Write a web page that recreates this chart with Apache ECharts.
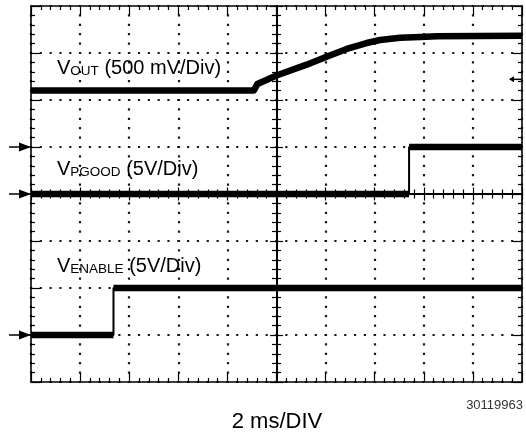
<!DOCTYPE html>
<html>
<head>
<meta charset="utf-8">
<script src="https://cdn.jsdelivr.net/npm/echarts@6/dist/echarts.min.js"></script>
<style>
  html, body { margin: 0; padding: 0; background: #fff; }
  #chart { width: 526px; height: 436px; }
</style>
</head>
<body>
<div id="chart"></div>
<script>
// Horizontal: time in ms relative to the screen centre, 2 ms per division
const timeRange = [-10, 10];
const timePerDiv = 2;
// Vertical: 8 divisions, 0 at the screen centre
const divRange = [-4, 4];

// Channel settings
const channelNames = ['OUT', 'PGOOD', 'ENABLE'];
const channelScales = ['500 mV/Div', '5V/Div', '5V/Div'];
const voltsPerDiv = [0.5, 5, 5];
const groundDiv = [1, 0, -3];          // ground marker, divisions from centre

// VOUT soft start from a pre-biased output (ms, V)
const voutTime  = [-10, -0.92, -0.78, 0, 1.23, 2.04, 2.86, 3.67, 4.22, 5.03, 5.85, 6.53, 10];
const voutVolts = [0.60, 0.60, 0.67, 0.76, 0.876, 0.961, 1.043, 1.106, 1.138, 1.163, 1.170, 1.178, 1.184];

// VPGOOD (ms, V)
const pgoodTime  = [-10, 5.40, 5.40, 10];
const pgoodVolts = [0, 0, 5, 5];

// VENABLE (ms, V)
const enableTime  = [-10, -6.64, -6.64, 10];
const enableVolts = [0, 0, 5, 5];

// Trigger level on the VOUT channel (V)
const triggerLevel = 0.72;

const FONT = '"Liberation Sans", Arial, Helvetica, sans-serif';
const chart = echarts.init(document.getElementById('chart'), null, { renderer: 'canvas' });

const toPairs = (t, v) => t.map((x, i) => [x, v[i]]);
// Thick band for the noisy flat levels, broken at vertical edges
const toLevels = (t, v) => {
  const out = [];
  t.forEach((x, i) => {
    if (i > 0 && x === t[i - 1]) out.push([x, '-']);
    out.push([x, v[i]]);
  });
  return out;
};

const traces = [
  { t: voutTime, v: voutVolts },
  { t: pgoodTime, v: pgoodVolts },
  { t: enableTime, v: enableVolts }
];

const tickStyle = { color: '#000', width: 1.2 };
const frameLine = { show: true, onZero: false, lineStyle: { color: '#000', width: 1.6 } };
const dotColor = '#1a1a1a';
const dotSize = 2.2;

function xAxisDef(extra) {
  return Object.assign({
    type: 'value', min: timeRange[0], max: timeRange[1], interval: timePerDiv,
    axisLabel: { show: false }, splitLine: { show: false },
    axisTick: { show: true, inside: true, length: 9, lineStyle: tickStyle },
    minorTick: { show: true, splitNumber: 5, length: 4, lineStyle: tickStyle }
  }, extra);
}
function yAxisDef(extra) {
  return Object.assign({
    type: 'value', min: divRange[0], max: divRange[1], interval: 1,
    axisLabel: { show: false }, splitLine: { show: false },
    axisTick: { show: true, inside: true, length: 9, lineStyle: tickStyle },
    minorTick: { show: true, splitNumber: 5, length: 4, lineStyle: tickStyle }
  }, extra);
}
const centreLine = { show: true, onZero: true, onZeroAxisIndex: 0, lineStyle: { color: '#000', width: 2 } };
const centreTick = (inside) => ({ show: true, inside: inside, length: 6.5, lineStyle: tickStyle });
const centreMinor = { show: true, splitNumber: 5, length: 4.5, lineStyle: tickStyle };

// Dotted graticule: one dot per minor division (9.4 px vertically, 9.82 px horizontally)
const xAxes = [
  xAxisDef({ position: 'bottom', axisLine: frameLine,
    splitLine: { show: true, lineStyle: { color: dotColor, width: dotSize, type: [dotSize, 9.4 - dotSize], dashOffset: dotSize / 2 } } }),
  xAxisDef({ position: 'top', axisLine: frameLine }),
  xAxisDef({ position: 'bottom', axisLine: centreLine, axisTick: centreTick(true), minorTick: centreMinor }),
  xAxisDef({ position: 'bottom', axisLine: centreLine, axisTick: centreTick(false), minorTick: centreMinor })
];
const yAxes = [
  yAxisDef({ position: 'left', axisLine: frameLine,
    splitLine: { show: true, lineStyle: { color: dotColor, width: dotSize, type: [dotSize, 9.82 - dotSize], dashOffset: dotSize / 2 } } }),
  yAxisDef({ position: 'right', axisLine: frameLine }),
  yAxisDef({ position: 'left', axisLine: centreLine, axisTick: centreTick(true), minorTick: centreMinor }),
  yAxisDef({ position: 'left', axisLine: centreLine, axisTick: centreTick(false), minorTick: centreMinor })
];
// One hidden value axis per channel: volts/div with its ground offset
voltsPerDiv.forEach((vpd, i) => {
  yAxes.push({
    type: 'value', show: false,
    min: (divRange[0] - groundDiv[i]) * vpd,
    max: (divRange[1] - groundDiv[i]) * vpd
  });
});
const channelAxis = (i) => 4 + i;

const series = [];
traces.forEach((tr, i) => {
  series.push({
    name: 'V' + channelNames[i], type: 'line', xAxisIndex: 0, yAxisIndex: channelAxis(i),
    data: toPairs(tr.t, tr.v), showSymbol: false, silent: true, animation: false,
    lineStyle: { color: '#000', width: 2 }, z: 5
  });
  series.push({
    name: 'V' + channelNames[i] + ' band', type: 'line', xAxisIndex: 0, yAxisIndex: channelAxis(i),
    data: toLevels(tr.t, tr.v), showSymbol: false, silent: true, animation: false,
    connectNulls: false, lineStyle: { color: '#000', width: 6.5, cap: 'butt', join: 'round' }, z: 5
  });
});

chart.setOption({
  animation: false,
  backgroundColor: '#fff',
  grid: { left: 31, top: 6, right: 4, bottom: 54, containLabel: false },
  xAxis: xAxes,
  yAxis: yAxes,
  series: series
});

// Annotations: channel labels, ground markers, trigger marker, captions
const leftEdge = chart.convertToPixel({ xAxisIndex: 0 }, timeRange[0]);
const rightEdge = chart.convertToPixel({ xAxisIndex: 0 }, timeRange[1]);
const graphics = [];

groundDiv.forEach((g, i) => {
  const y = chart.convertToPixel({ yAxisIndex: channelAxis(i) }, 0);
  graphics.push({
    type: 'group', silent: true, children: [
      { type: 'line', shape: { x1: leftEdge - 22, y1: y, x2: leftEdge, y2: y }, style: { stroke: '#000', lineWidth: 1.5 } },
      { type: 'polygon', shape: { points: [[leftEdge - 12, y - 4.5], [leftEdge, y], [leftEdge - 12, y + 4.5]] }, style: { fill: '#000' } }
    ]
  });
});

const ty = chart.convertToPixel({ yAxisIndex: channelAxis(0) }, triggerLevel);
graphics.push({
  type: 'group', silent: true, children: [
    { type: 'line', shape: { x1: rightEdge - 12, y1: ty, x2: rightEdge, y2: ty }, style: { stroke: '#000', lineWidth: 1.5 } },
    { type: 'polygon', shape: { points: [[rightEdge - 13, ty], [rightEdge - 8, ty - 3], [rightEdge - 8, ty + 3]] }, style: { fill: '#000' } }
  ]
});

const labelBaselines = [78, 179, 276];
channelNames.forEach((name, i) => {
  graphics.push({
    type: 'text', silent: true, x: 57, y: labelBaselines[i],
    style: {
      text: '{v|V}{s|' + name + '}{t| (' + channelScales[i] + ')}',
      verticalAlign: 'bottom', fill: '#000',
      rich: {
        v: { fontSize: 20, fontFamily: FONT, verticalAlign: 'bottom', fill: '#000' },
        s: { fontSize: 13.5, fontFamily: FONT, verticalAlign: 'bottom', fill: '#000' },
        t: { fontSize: 20, fontFamily: FONT, verticalAlign: 'bottom', fill: '#000' }
      }
    }
  });
});

graphics.push({
  type: 'text', silent: true, x: rightEdge + 1, y: 405,
  style: { text: '30119963', font: '13px ' + FONT, fill: '#333', align: 'right', verticalAlign: 'middle' }
});
graphics.push({
  type: 'text', silent: true, x: 277, y: 422,
  style: { text: '2 ms/DIV', font: '22px ' + FONT, fill: '#000', align: 'center', verticalAlign: 'middle' }
});

chart.setOption({ graphic: graphics });
</script>
</body>
</html>
